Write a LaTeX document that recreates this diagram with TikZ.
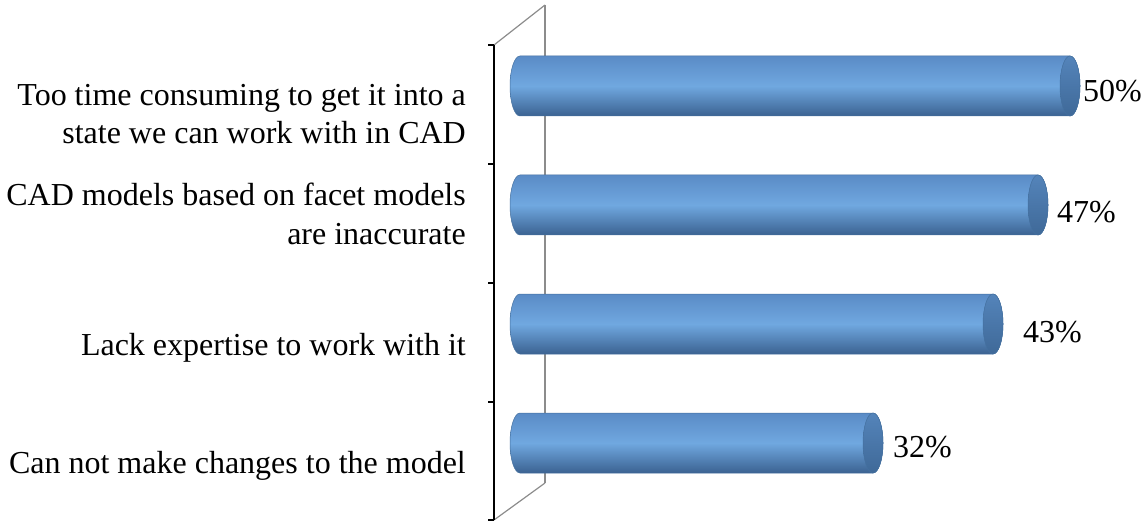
\documentclass[tikz,border=0pt]{standalone}
\usepackage{fontspec}
\setmainfont{Liberation Serif}
\usepackage{tikz}

\definecolor{barTop}{HTML}{5A8BC6}
\definecolor{barMid}{HTML}{70A8E0}
\definecolor{barBot}{HTML}{3B6291}
\definecolor{barEdge}{HTML}{44709F}
\definecolor{capTop}{HTML}{5484BA}
\definecolor{capBot}{HTML}{3F6998}
\definecolor{wallGray}{HTML}{8C8C8C}

\tikzset{
  barbody/.style={draw=barEdge, line width=0.5pt, top color=barTop, bottom color=barBot, middle color=barMid},
  barcap/.style={draw=barEdge, line width=0.5pt, top color=capTop, bottom color=capBot},
  cat/.style={font=\fontsize{32}{38.5}\selectfont, inner sep=0pt, align=right},
  pct/.style={font=\fontsize{32}{38.5}\selectfont, inner sep=0pt, anchor=base west}
}

\begin{document}
\begin{tikzpicture}[x=1pt,y=1pt]
\useasboundingbox (0,0) rectangle (1146,523);

% back wall
\draw[wallGray, line width=1.2pt] (545,518) -- (545,40);
\draw[wallGray, line width=1.2pt] (494,478) -- (545,518);
\draw[wallGray, line width=1.2pt] (494,3) -- (545,40);

% axis
\draw[black, line width=1.2pt] (494,478) -- (494,3);
\draw[black, line width=1.2pt] (488,478) -- (494,478);
\draw[black, line width=1.2pt] (488,359) -- (494,359);
\draw[black, line width=1.2pt] (488,240) -- (494,240);
\draw[black, line width=1.2pt] (488,121) -- (494,121);
\draw[black, line width=1.2pt] (488,3) -- (494,3);

% bars
\shade[barbody] (520,467) -- (1070,467) arc[start angle=90,end angle=-90,x radius=10,y radius=30] -- (520,407) arc[start angle=270,end angle=90,x radius=10,y radius=30] -- cycle;
\shade[barcap] (1070,437) ellipse [x radius=10, y radius=30];

\shade[barbody] (520,348) -- (1038,348) arc[start angle=90,end angle=-90,x radius=10,y radius=30] -- (520,288) arc[start angle=270,end angle=90,x radius=10,y radius=30] -- cycle;
\shade[barcap] (1038,318) ellipse [x radius=10, y radius=30];

\shade[barbody] (520,229) -- (993,229) arc[start angle=90,end angle=-90,x radius=10,y radius=30] -- (520,169) arc[start angle=270,end angle=90,x radius=10,y radius=30] -- cycle;
\shade[barcap] (993,199) ellipse [x radius=10, y radius=30];

\shade[barbody] (520,110) -- (873,110) arc[start angle=90,end angle=-90,x radius=10,y radius=30] -- (520,50) arc[start angle=270,end angle=90,x radius=10,y radius=30] -- cycle;
\shade[barcap] (873,80) ellipse [x radius=10, y radius=30];

% category labels
\node[cat, anchor=east] (timeLbl) at (466,409) {Too time consuming to get it into a\\state we can work with in CAD};
\node[cat, anchor=east] (facetLbl) at (466,309) {CAD models based on facet models\\are inaccurate};
\node[cat, anchor=base east] (expertLbl) at (466,168) {Lack expertise to work with it};
\node[cat, anchor=base east] (changeLbl) at (466,50) {Can not make changes to the model};

% values
\node[pct] (timeVal) at (1083,421) {50\%};
\node[pct] (facetVal) at (1057,300) {47\%};
\node[pct] (expertVal) at (1023,181) {43\%};
\node[pct] (changeVal) at (893,66) {32\%};
\end{tikzpicture}
\end{document}
